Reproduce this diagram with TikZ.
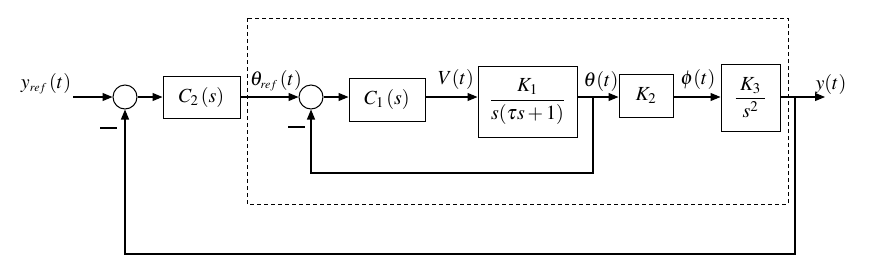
\documentclass[tikz,border=0pt]{standalone}
\usepackage{amsmath}
\usepackage{mathptmx}
\usetikzlibrary{arrows.meta}
\begin{document}
\begin{tikzpicture}[x=1pt,y=-1pt,line width=1.1pt,
  blk/.style={draw, line width=1pt, inner sep=0pt},
  sumc/.style={circle, draw, line width=1pt, minimum size=24pt, inner sep=0pt},
  arr/.style={-{Triangle[length=10pt,width=8pt]}},
  lbl/.style={inner sep=0pt},
  minus/.style={line width=1.4pt},
  font=\fontsize{20}{23}\selectfont]
\useasboundingbox (0,0) rectangle (874,263);
% dashed inner-loop frame
\draw[dash pattern=on 4pt off 3pt, line width=0.9pt] (247,18) rectangle (788,204);
% blocks
\node[sumc] (s1) at (125,97) {};
\node[sumc] (s2) at (311,97) {};
\node[blk, minimum width=77pt, minimum height=42pt] (c2) at (201.5,97) {$C_2\,(s)$};
\node[blk, minimum width=76pt, minimum height=43pt] (c1) at (387,99.5) {$C_1\,(s)$};
\node[blk, minimum width=99pt, minimum height=71pt] (k1) at (527.5,101.5) {$\dfrac{\;K_1\;}{s(\tau s+1)}$};
\node[blk, minimum width=54pt, minimum height=43pt] (k2) at (646,95.5) {$K_2$};
\node[blk, minimum width=59pt, minimum height=67pt] (k3) at (750.5,97.5) {$\dfrac{\;K_3\;}{s^2}$};
% points
\coordinate (in) at (73,97);
\coordinate (out) at (825,97);
\coordinate (b1) at (593,97);
\coordinate (b2) at (795,97);
% signal path
\draw[arr] (in) -- (s1.west);
\draw[arr] (s1.east) -- (s1.east -| c2.west);
\draw[arr] (s2.west -| c2.east) -- (s2.west);
\draw[arr] (s2.east) -- (s2.east -| c1.west);
\draw[arr] (s2.east -| c1.east) -- (s2.east -| k1.west);
\draw[arr] (s2.east -| k1.east) -- (s2.east -| k2.west);
\draw[arr] (s2.east -| k2.east) -- (s2.east -| k3.west);
\draw[arr] (s2.east -| k3.east) -- (out);
% feedback loops
\draw[arr] (b1) -- (b1 |- 0,173) -- (s2.south |- 0,173) -- (s2.south);
\draw[arr] (b2) -- (b2 |- 0,254) -- (s1.south |- 0,254) -- (s1.south);
% labels
\node[lbl] (lyref) at (46,84) {$y_{\scriptscriptstyle ref}\,(t)$};
\node[lbl] (lthref) at (276,81) {$\theta_{\scriptscriptstyle ref}\,(t)$};
\node[lbl] (lv) at (456,79) {$V(t)$};
\node[lbl] (lth) at (601,81) {$\theta(t)$};
\node[lbl] (lphi) at (698,79) {$\phi(t)$};
\node[lbl] (ly) at (831,84) {$y(t)$};
% minus signs
\coordinate (m1a) at (100,128);
\coordinate (m1b) at (117,128);
\coordinate (m2a) at (288,127);
\coordinate (m2b) at (305,127);
\draw[minus] (m1a) -- (m1b);
\draw[minus] (m2a) -- (m2b);
\end{tikzpicture}
\end{document}
